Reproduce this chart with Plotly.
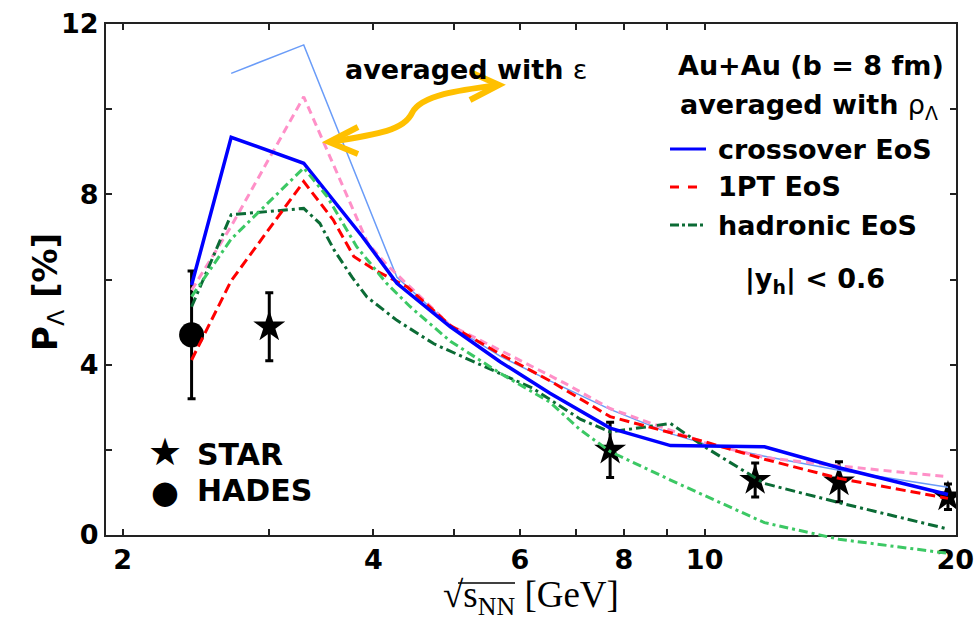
import math
import plotly.graph_objects as go

# ---------------- data ----------------
cross_rho_E = [2.42, 2.7, 3.3, 3.88, 4.27, 4.95, 5.68, 6.52, 7.7, 9.1, 11.8, 14.5, 19.6]
cross_rho_P = [5.87, 9.34, 8.73, 7.01, 5.91, 4.89, 4.07, 3.33, 2.51, 2.10, 2.07, 1.58, 0.95]

cross_eps_E = [2.7, 3.3, 4.27, 4.95, 5.68, 6.52, 7.7, 9.1, 10.0, 11.8, 14.5, 19.6]
cross_eps_P = [10.84, 11.51, 6.05, 4.92, 4.20, 3.62, 2.95, 2.38, 2.14, 1.85, 1.52, 1.12]

pt1_rho_E = [2.42, 2.7, 3.3, 3.58, 3.79, 4.02, 4.39, 4.95, 5.68, 6.52, 7.7, 10.0, 11.8, 14.5, 19.6]
pt1_rho_P = [4.11, 5.97, 8.30, 7.40, 6.54, 6.22, 5.83, 4.92, 4.25, 3.62, 2.78, 2.19, 1.78, 1.33, 0.86]

pt1_eps_E = [2.42, 2.7, 3.3, 3.65, 3.94, 4.15, 4.95, 5.68, 6.8, 7.7, 9.1, 10.0, 11.8, 14.5, 19.6]
pt1_eps_P = [5.75, 7.25, 10.29, 8.34, 6.85, 6.35, 4.92, 4.34, 3.56, 2.97, 2.47, 2.17, 1.82, 1.62, 1.37]

had_rho_E = [2.42, 2.7, 3.3, 3.45, 3.59, 3.77, 3.93, 4.27, 4.73, 5.44, 6.21, 7.09, 7.7, 9.1, 10.0, 11.8, 14.5, 19.6]
had_rho_P = [5.36, 7.52, 7.67, 7.32, 6.69, 6.06, 5.59, 5.04, 4.49, 3.95, 3.45, 2.72, 2.42, 2.62, 2.07, 1.21, 0.76, 0.14]

had_eps_E = [2.42, 2.7, 3.3, 3.52, 3.82, 4.15, 4.43, 4.95, 5.68, 6.52, 7.09, 7.7, 9.1, 11.8, 14.5, 19.6]
had_eps_P = [5.60, 6.95, 8.62, 7.95, 6.77, 5.91, 5.36, 4.55, 3.80, 3.12, 2.47, 1.96, 1.29, 0.29, -0.10, -0.43]

star_E = [3.0, 7.7, 11.5, 14.5, 19.6]
star_P = [4.89, 2.00, 1.29, 1.25, 0.90]
star_err = [0.80, 0.65, 0.40, 0.47, 0.30]

hades_E = [2.42]
hades_P = [4.70]
hades_err = [1.50]

x_tickvals = [2, 4, 6, 8, 10, 20]
x_ticktext = ["2", "4", "6", "8", "10", "20"]
x_minorvals = [3, 5, 7, 9]
y_tickvals = [0, 4, 8, 12]
y_ticktext = ["0", "4", "8", "12"]
y_minorvals = [2, 6, 10]

# ---------------- layout geometry ----------------
W, H = 976, 625
L, R, T, B = 106, 956, 24, 560          # paper area in pixels
Y0PIX = 535                              # pixel row of P = 0
PPU = (Y0PIX - T) / 12.0                 # pixels per unit of P


def px(xp):
    return (xp - L) / (R - L)


def py(yp):
    return (B - yp) / (B - T)


FONT = "DejaVu Sans"
fig = go.Figure()

# data points first (lines drawn on top)
fig.add_trace(go.Scatter(
    x=star_E, y=star_P, mode="markers",
    marker=dict(symbol="star", size=24, color="black"),
    error_y=dict(type="data", array=star_err, color="black", thickness=3, width=4),
    showlegend=False, xaxis="x", yaxis="y"))
fig.add_trace(go.Scatter(
    x=hades_E, y=hades_P, mode="markers",
    marker=dict(symbol="circle", size=25, color="black"),
    error_y=dict(type="data", array=hades_err, color="black", thickness=3, width=4),
    showlegend=False, xaxis="x", yaxis="y"))

lines = [
    (cross_eps_E, cross_eps_P, "#6A9CF8", 1.5, "solid", "y"),
    (pt1_eps_E, pt1_eps_P, "#FF90C8", 3, "8px,5px", "y"),
    (had_rho_E, had_rho_P, "#0B6B35", 3, "10px,4px,3px,4px", "y"),
    (pt1_rho_E, pt1_rho_P, "#FF0000", 3, "10px,5px", "y"),
    (cross_rho_E, cross_rho_P, "#0000FF", 3.5, "solid", "y"),
    (had_eps_E, had_eps_P, "#3CC864", 3, "9px,4px,3px,4px", "y2"),
]
for xs, ys, col, w, dash, ya in lines:
    fig.add_trace(go.Scatter(x=xs, y=ys, mode="lines",
                             line=dict(color=col, width=w, dash=dash),
                             showlegend=False, xaxis="x", yaxis=ya))

axis_common = dict(showline=True, linecolor="#222", linewidth=2, mirror="ticks",
                   ticks="inside", ticklen=6, tickwidth=1.5, tickcolor="#222",
                   showgrid=False, zeroline=False, automargin=False,
                   tickfont=dict(family=FONT, size=27, color="black", weight="bold"))

y_dom0 = (B - Y0PIX) / (B - T)
fig.update_layout(
    width=W, height=H,
    margin=dict(l=L, r=W - R, t=T, b=H - B, pad=0, autoexpand=False),
    paper_bgcolor="white", plot_bgcolor="rgba(0,0,0,0)",
    xaxis=dict(type="log", range=[math.log10(1.91), math.log10(20.04)],
               tickmode="array", tickvals=x_tickvals, ticktext=x_ticktext,
               minor=dict(tickmode="array", tickvals=x_minorvals, ticks="inside",
                          ticklen=6, tickwidth=1.5, tickcolor="#222", showgrid=False),
               anchor="y", domain=[0, 1], **axis_common),
    yaxis=dict(range=[0, 12], tickmode="array", tickvals=y_tickvals, ticktext=y_ticktext,
               minor=dict(tickmode="array", tickvals=y_minorvals, ticks="inside",
                          ticklen=6, tickwidth=1.5, tickcolor="#222", showgrid=False),
               domain=[y_dom0, 1], anchor="x", **axis_common),
    yaxis2=dict(range=[12 - (B - T) / PPU, 12], domain=[0, 1], anchor="x",
                visible=False, showgrid=False, zeroline=False, automargin=False),
    showlegend=False,
)

ann = []


def text(x, y, s, size, xanchor="left", bold=True, family=FONT, angle=0):
    ann.append(dict(x=px(x), y=py(y), xref="paper", yref="paper", text=s,
                    showarrow=False, xanchor=xanchor, yanchor="middle",
                    textangle=angle,
                    font=dict(family=family, size=size, color="black",
                              weight="bold" if bold else "normal")))


GR = "<span style='font-weight:normal'>%s</span>"
text(343, 70, "averaged with " + GR % "ε", 27)
text(946, 65, "Au+Au (b = 8 fm)", 27, xanchor="right")
text(940, 107, "averaged with " + GR % "ρ<sub>Λ</sub>", 27, xanchor="right")
text(716, 149, "crossover EoS", 27)
text(716, 187, "1PT EoS", 27)
text(716, 225, "hadronic EoS", 27)
text(815, 280, "|y<sub>h</sub>| &lt; 0.6", 27, xanchor="center")
text(195, 454, "STAR", 30)
text(195, 491, "HADES", 30)
text(165, 452, "★", 38, xanchor="center", bold=False)
text(165, 492, "●", 32, xanchor="center", bold=False)
text(47, 292, "P" + GR % "<sub>Λ</sub>" + " [%]", 34, xanchor="center", angle=-90)
text(531, 597, "√s<sub>NN</sub> [GeV]", 37, xanchor="center", bold=False,
     family="Liberation Serif")

shapes = []


def seg(x0, y0, x1, y1, color, width, dash="solid"):
    shapes.append(dict(type="line", xref="paper", yref="paper",
                       x0=px(x0), y0=py(y0), x1=px(x1), y1=py(y1),
                       line=dict(color=color, width=width, dash=dash)))


seg(670, 149, 706, 149, "#0000FF", 3)
seg(670, 187, 706, 187, "#FF0000", 3, "dash")
seg(670, 225, 706, 225, "#0B6B35", 3, "dashdot")
# overline of the square root in the x title
seg(458, 583, 515, 583, "black", 1.5)

# yellow double arrow
def P(x, y):
    return "%.5f,%.5f" % (px(x), py(y))


arrow_col = "#FFC000"
curve = ("M " + P(330, 142) + " C " + P(380, 134) + " " + P(404, 130) + " " + P(412, 113)
         + " C " + P(421, 95) + " " + P(460, 90) + " " + P(498, 85))
shapes.append(dict(type="path", xref="paper", yref="paper", path=curve,
                   line=dict(color=arrow_col, width=6)))
for pts in ([(358, 127), (329, 142), (358, 154)], [(470, 72), (499, 85), (470, 100)]):
    path = "M " + P(*pts[0]) + " L " + P(*pts[1]) + " L " + P(*pts[2])
    shapes.append(dict(type="path", xref="paper", yref="paper", path=path,
                       line=dict(color=arrow_col, width=6)))

fig.update_layout(annotations=ann, shapes=shapes)
fig.write_html("out.html", config={"displayModeBar": False},
               post_script="document.body.style.margin='0px';"
                           "document.body.style.overflow='hidden';")
